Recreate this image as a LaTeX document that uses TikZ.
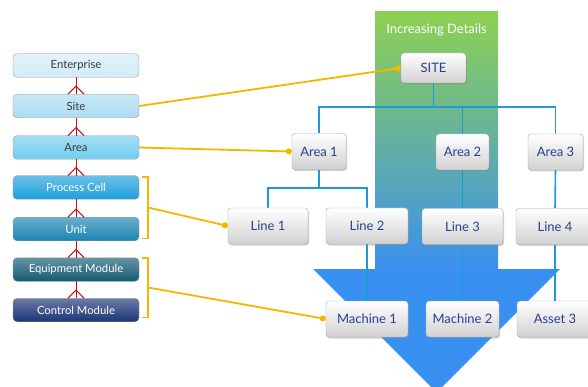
\documentclass[tikz,border=0pt]{standalone}
\usepackage{fontspec}
\setmainfont{Lato}
\usetikzlibrary{shadows,arrows.meta}
\pgfdeclarelayer{back}
\pgfdeclarelayer{mid}
\pgfsetlayers{back,mid,main}
\definecolor{bandgreen}{HTML}{8ED152}
\definecolor{bandteal}{HTML}{6FB6AE}
\definecolor{bandblue}{HTML}{3A90F0}
\definecolor{arrowblue}{HTML}{3891F0}
\definecolor{treeblue}{HTML}{1E9AD6}
\definecolor{txtblue}{HTML}{2B3F8F}
\definecolor{yel}{HTML}{F6B600}
\definecolor{redl}{HTML}{C0141C}
\definecolor{cEnt}{HTML}{D2EBF7}
\definecolor{cSite}{HTML}{ACDCF2}
\definecolor{cArea}{HTML}{72CCF0}
\definecolor{cPC}{HTML}{1C9FDA}
\definecolor{cUnit}{HTML}{1A84B2}
\definecolor{cEM}{HTML}{135B73}
\definecolor{cCM}{HTML}{1C3577}
\definecolor{dtxt}{HTML}{3A3A3A}
\tikzset{
  rbox/.style={draw=black!35, rounded corners=3pt, top color=white, bottom color=black!18,
    drop shadow={shadow xshift=1pt, shadow yshift=-1.5pt, opacity=0.35},
    text=txtblue, font=\fontsize{13}{15}\selectfont, minimum height=36pt, inner sep=0pt},
  lbox/.style={draw=black!40, rounded corners=4pt, top color=#1!65!white, bottom color=#1,
    minimum width=126pt, minimum height=23.5pt, inner sep=0pt,
    font=\fontsize{11.3}{13}\selectfont},
  redline/.style={draw=redl, line width=1pt},
  yline/.style={draw=yel, line width=1.8pt},
  ydot/.style={yline, -{Circle[length=6pt]}},
  tline/.style={draw=treeblue, line width=1.6pt}
}
\begin{document}
\begin{tikzpicture}[x=1pt,y=-1pt]
\useasboundingbox (0,0) rectangle (588,387);
\begin{pgfonlayer}{back}
\fill[white] (0,0) rectangle (588,387);
% band and arrow
\shade[top color=bandgreen, middle color=bandteal, bottom color=bandblue] (375,12) rectangle (498,271);
\fill[arrowblue] (313,269) -- (560,269) -- (436.5,392.5) -- cycle;
\end{pgfonlayer}
\node[text=white, font=\fontsize{13}{15}\selectfont] (title) at (436.5,30) {Increasing Details};

% right tree nodes
\node[rbox, minimum width=65pt, minimum height=30pt] (site) at (433.5,68) {SITE};
\node[rbox, minimum width=54pt] (area1) at (319,151.5) {Area 1};
\node[rbox, minimum width=53pt] (area2) at (462.5,152) {Area 2};
\node[rbox, minimum width=55pt] (area3) at (555.5,152) {Area 3};
\node[rbox, minimum width=80pt] (line1) at (268,226) {Line 1};
\node[rbox, minimum width=82pt] (line2) at (367,226) {Line 2};
\node[rbox, minimum width=81pt] (line3) at (462.5,226.5) {Line 3};
\node[rbox, minimum width=78pt] (line4) at (555,226.5) {Line 4};
\node[rbox, minimum width=82pt] (mach1) at (367,319) {Machine 1};
\node[rbox, minimum width=73pt] (mach2) at (462.5,319) {Machine 2};
\node[rbox, minimum width=76pt] (asset3) at (555,319) {Asset 3};

% tree lines (behind boxes)
\begin{pgfonlayer}{mid}
\coordinate (j1) at (433.5,107);
\coordinate (j2) at (319,188);
\draw[tline] (site.south) -- (j1);
\draw[tline] (area1.north) |- (j1) -| (area3.north);
\draw[tline] (area2.north) -- (area2.north |- j1);
\draw[tline] (area1.south) -- (j2);
\draw[tline] (line1.north) |- (j2) -| (line2.north);
\draw[tline] (area2.south) -- (line3.north);
\draw[tline] (line3.south) -- (mach2.north);
\draw[tline] (area3.south) -- (line4.north);
\draw[tline] (line4.south) -- (asset3.north);
\draw[tline] (line2.south) -- (mach1.north);
\end{pgfonlayer}

% left hierarchy
\node[lbox=cEnt, text=dtxt] (lent) at (76,65.5) {Enterprise};
\node[lbox=cSite, text=dtxt] (lsite) at (76,106) {Site};
\node[lbox=cArea, text=dtxt] (larea) at (76,147.5) {Area};
\node[lbox=cPC, text=white] (lpc) at (76,187.5) {Process Cell};
\node[lbox=cUnit, text=white] (lunit) at (76,229) {Unit};
\node[lbox=cEM, text=white] (lem) at (76,269.5) {Equipment Module};
\node[lbox=cCM, text=white] (lcm) at (76,310) {Control Module};

\foreach \a/\b in {lent/lsite, lsite/larea, larea/lpc, lpc/lunit, lunit/lem, lem/lcm}{
  \draw[redline] (\a.south) -- (\b.north);
  \draw[redline] ([xshift=-8pt]\b.north) -- ([yshift=8pt]\b.north) -- ([xshift=8pt]\b.north);
}

% brackets
\coordinate (b1) at (148,207.5);
\coordinate (b2) at (148,287.5);
\draw[yline] (142,177) -- (148,177) -- (148,238.5) -- (142,238.5);
\draw[yline] (142,258) -- (148,258) -- (148,317.5) -- (142,317.5);

% yellow connectors
\draw[ydot] (lsite.east) -- (site.west);
\draw[ydot] (larea.east) -- (area1.west);
\draw[ydot] (b1) -- (line1.west);
\draw[ydot] (b2) -- (mach1.west);
\end{tikzpicture}
\end{document}
